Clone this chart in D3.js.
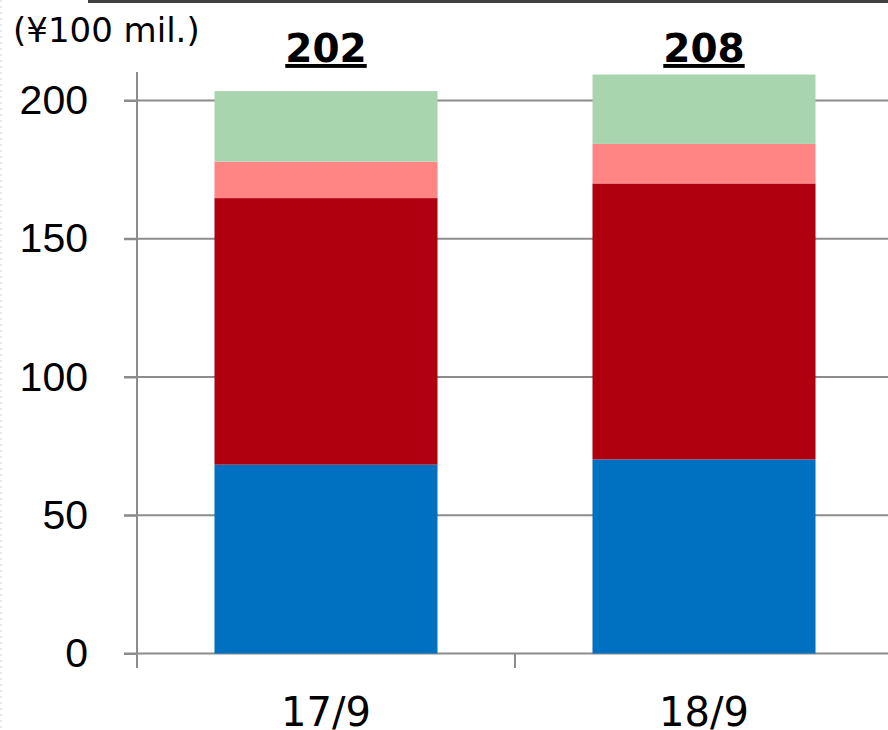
<!DOCTYPE html>
<html>
<head>
<meta charset="utf-8">
<script src="https://cdn.jsdelivr.net/npm/d3@7"></script>
<style>
  body { margin: 0; background: #fff; }
  svg { display: block; font-family: "DejaVu Sans", Verdana, sans-serif; }
</style>
</head>
<body>
<svg width="888" height="730"></svg>
<script>
const periods = ["17/9", "18/9"];
const totals = [202, 208];
const segBlue = [68.3, 70.2];
const segDarkRed = [96.4, 99.8];
const segPink = [13.2, 14.3];
const segGreen = [25.5, 25.1];
const yTicks = [0, 50, 100, 150, 200];
const unitLabel = "(¥100 mil.)";

const keys = ["blue", "darkred", "pink", "green"];
const colors = { blue: "#0070c0", darkred: "#b0000f", pink: "#ff8585", green: "#a8d4ae" };

const rows = periods.map((p, i) => ({
  period: p,
  blue: segBlue[i],
  darkred: segDarkRed[i],
  pink: segPink[i],
  green: segGreen[i]
}));

const svg = d3.select("svg");
const width = +svg.attr("width");

const x = d3.scaleBand()
  .domain(periods)
  .range([137, 893])
  .paddingInner(0.41)
  .paddingOuter(0.205);

const y = d3.scaleLinear()
  .domain([0, 200])
  .range([653.5, 100.5]);

// frame bits
svg.append("rect").attr("x", 88).attr("y", 0).attr("width", width - 88).attr("height", 3).attr("fill", "#404040");
svg.append("line").attr("x1", 1).attr("x2", 1).attr("y1", 0).attr("y2", 730)
  .attr("stroke", "#d0d0d0").attr("stroke-dasharray", "2,4");

// gridlines
svg.append("g").selectAll("line")
  .data(yTicks)
  .join("line")
  .attr("x1", 124).attr("x2", width)
  .attr("y1", d => y(d)).attr("y2", d => y(d))
  .attr("stroke", "#8c8c8c").attr("stroke-width", 2);

// y axis
const yAxis = svg.append("g")
  .attr("transform", "translate(137,0)")
  .call(d3.axisLeft(y).tickValues(yTicks).tickSize(13).tickPadding(36));
yAxis.select(".domain").remove();
yAxis.selectAll("line").attr("stroke", "#8c8c8c").attr("stroke-width", 2);
yAxis.selectAll("text").attr("font-size", 41).attr("fill", "#000").attr("font-family", null);
svg.append("line").attr("x1", 137).attr("x2", 137).attr("y1", 72).attr("y2", 654)
  .attr("stroke", "#8c8c8c").attr("stroke-width", 2);

// x axis ticks at band boundaries
const boundaries = [137, 515];
svg.append("g").selectAll("line")
  .data(boundaries)
  .join("line")
  .attr("x1", d => d).attr("x2", d => d)
  .attr("y1", 654).attr("y2", 668)
  .attr("stroke", "#8c8c8c").attr("stroke-width", 2);

svg.append("g").selectAll("text")
  .data(periods)
  .join("text")
  .attr("x", d => x(d) + x.bandwidth() / 2)
  .attr("y", 726)
  .attr("text-anchor", "middle")
  .attr("font-size", 40)
  .text(d => d);

// bars
const stacked = d3.stack().keys(keys)(rows);
svg.append("g").selectAll("g")
  .data(stacked)
  .join("g")
  .attr("fill", d => colors[d.key])
  .selectAll("rect")
  .data(d => d)
  .join("rect")
  .attr("x", d => x(d.data.period))
  .attr("width", x.bandwidth())
  .attr("y", d => y(d[1]))
  .attr("height", d => y(d[0]) - y(d[1]));

// totals
svg.append("g").selectAll("text")
  .data(periods)
  .join("text")
  .attr("x", (d, i) => x(d) + x.bandwidth() / 2)
  .attr("y", 62)
  .attr("text-anchor", "middle")
  .attr("font-size", 39)
  .attr("font-weight", "bold")
  .attr("text-decoration", "underline")
  .text((d, i) => totals[i]);

// unit label
svg.append("text")
  .attr("x", 13).attr("y", 42)
  .attr("font-size", 34)
  .text(unitLabel);
</script>
</body>
</html>
